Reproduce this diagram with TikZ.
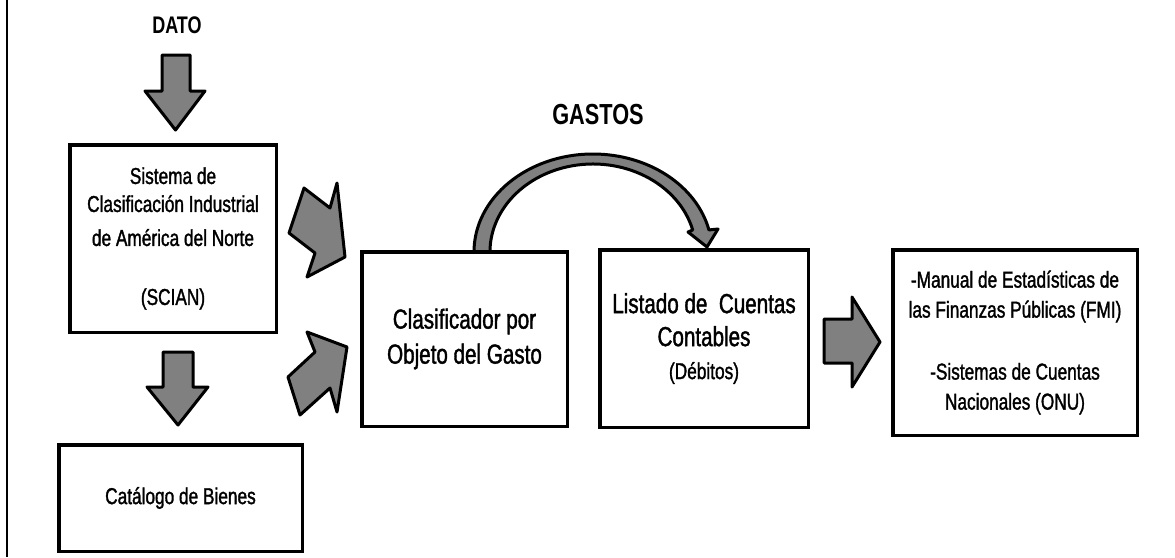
\documentclass[tikz,border=0pt]{standalone}
\usepackage{fontspec}
\setmainfont{Liberation Sans}[FakeStretch=0.75, UprightFeatures={FakeBold=1.4}]
\begin{document}
\begin{tikzpicture}[x=1pt,y=1pt,
  box/.style={draw, line width=3.5pt, rectangle, inner sep=0pt, align=center,
    font=\fontsize{23}{28}\selectfont},
  blockarrow/.style={draw, line width=3pt, fill=black!50, line join=round},
  title/.style={font=\bfseries\fontsize{24}{28}\selectfont}]
\useasboundingbox (0,0) rectangle (1175,-557);
\fill[white] (0,0) rectangle (1175,-557);
% left frame line
\draw[line width=2pt] (7,0) -- (7,-557);

% titles
\node[title] (dato) at (177,-25) {DATO};
\node[title, font=\bfseries\fontsize{29}{32}\selectfont] (gastos) at (598,-115) {GASTOS};

% block arrows
\draw[blockarrow] (162,-55) -- (190,-55) -- (190,-91) -- (205,-91) -- (175.5,-130) -- (145,-91) -- (162,-91) -- cycle;
\draw[blockarrow] (163,-352) -- (193,-352) -- (193,-387) -- (208,-387) -- (178,-425) -- (147,-387) -- (163,-387) -- cycle;
\draw[blockarrow] (304,-188) -- (330,-208) -- (337,-183) -- (345,-257) -- (307,-277) -- (315,-253) -- (289,-233) -- cycle;
\draw[blockarrow] (288,-377) -- (315,-352) -- (307,-332) -- (347,-347) -- (337,-412) -- (330,-388) -- (300,-415) -- cycle;
\draw[blockarrow] (824,-319) -- (852,-319) -- (852,-297) -- (880,-342) -- (852,-387) -- (852,-363) -- (824,-363) -- cycle;
% curved arrow (GASTOS)
\draw[blockarrow] (474,-252) arc[start angle=180, end angle=13, x radius=119, y radius=98]
  -- (718,-229) -- (707,-247) -- (688,-232) -- (692.7,-230)
  arc[start angle=14.48, end angle=180, x radius=103, y radius=88] -- cycle;

% boxes
\node[box, minimum width=206.5pt, minimum height=187.5pt] (scian) at (173,-238.5)
  {Sistema de\\Clasificación Industrial\\[6pt]de América del Norte\\[31pt](SCIAN)};
\node[box, minimum width=243.5pt, minimum height=106.5pt] (cat) at (180.5,-498)
  {Catálogo de Bienes};
\node[box, minimum width=205.5pt, minimum height=174.5pt,
  font=\fontsize{27.5}{35}\selectfont] (clas) at (464.5,-339)
  {Clasificador por\\Objeto del Gasto};
\node[box, minimum width=208.5pt, minimum height=177.5pt,
  font=\fontsize{27.5}{33}\selectfont] (lis) at (704,-338.5)
  {Listado de~ Cuentas\\Contables\\{\fontsize{23}{28}\selectfont (Débitos)}};
\node[box, minimum width=244.5pt, minimum height=185.5pt,
  font=\fontsize{23}{30}\selectfont] (fmi) at (1015,-342.5)
  {-Manual de Estadísticas de\\las Finanzas Públicas (FMI)\\[32pt]-Sistemas de Cuentas\\Nacionales (ONU)};
\end{tikzpicture}
\end{document}
